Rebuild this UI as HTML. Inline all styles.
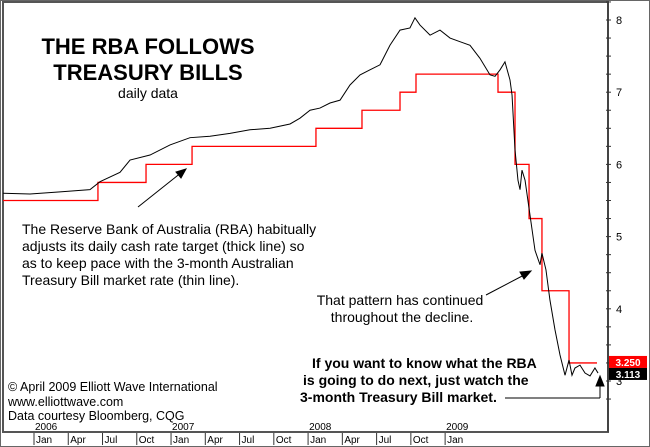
<!DOCTYPE html>
<html><head><meta charset="utf-8"><style>
body{margin:0;background:#fff}
svg{display:block;font-family:"Liberation Sans",Arial,sans-serif}
</style></head><body>
<svg id="chart" width="650" height="447" viewBox="0 0 650 447">
<rect x="0.5" y="0.5" width="649" height="446" fill="#fff" stroke="#666" stroke-width="1"/>
<rect x="3" y="2" width="605" height="430" fill="none" stroke="#555" stroke-width="2"/>
<g id="axes"></g>
<g id="marks"></g>
<g font-weight="bold" font-size="22" text-anchor="middle">
<text x="148" y="54">THE RBA FOLLOWS</text>
<text x="148" y="80">TREASURY BILLS</text>
</g>
<text x="148" y="98" font-size="14" text-anchor="middle">daily data</text>
<g font-size="14">
<text x="22" y="234">The Reserve Bank of Australia (RBA) habitually</text>
<text x="22" y="251">adjusts its daily cash rate target (thick line) so</text>
<text x="22" y="268">as to keep pace with the 3-month Australian</text>
<text x="22" y="285">Treasury Bill market rate (thin line).</text>
</g>
<g font-size="14" text-anchor="middle">
<text x="400" y="305">That pattern has continued</text>
<text x="402" y="322">throughout the decline.</text>
</g>
<g font-size="14" font-weight="bold">
<text x="312" y="368">If you want to know what the RBA</text>
<text x="303" y="385">is going to do next, just watch the</text>
<text x="300" y="402">3-month Treasury Bill market.</text>
</g>
<g font-size="12.5">
<text x="8" y="391">© April 2009 Elliott Wave International</text>
<text x="8" y="406">www.elliottwave.com</text>
<text x="8" y="420">Data courtesy Bloomberg, CQG</text>
</g>
<g stroke="#000" stroke-width="1" fill="#000">
<line x1="138" y1="207" x2="182" y2="172"/><polygon points="186,169 176,172 181,178"/>
<line x1="486" y1="295" x2="526" y2="274"/><polygon points="531,271 520,272 524,279"/>
<line x1="505" y1="398" x2="600" y2="398"/><line x1="600" y1="398" x2="600" y2="380"/><polygon points="600,376 596,386 604,386"/>
</g>
</svg>
<script>
// Treasury bill (months since Jan 2006, rate %)
const tbMonths=[-2.71,-0.35,2.28,4.9,5.78,7.53,8.41,10.16,11.91,13.66,15.41,17.16,18.91,20.67,22.42,23.29,24.17,25.04,25.92,26.8,27.67,28.55,29.42,30.3,31.17,32.05,32.92,33.36,33.8,34.68,35.55,36.43,37.3,38.18,39.05,39.93,40.37,40.81,41.24,41.68,41.86,42.12,42.38,42.56,42.73,43.0,43.43,43.87,44.31,44.48,44.83,45.18,45.62,46.06,46.5,46.85,47.11,47.37,47.81,48.25,48.69,49.12,49.39];
const tbValues=[5.60,5.59,5.62,5.65,5.76,5.89,6.06,6.13,6.27,6.37,6.39,6.43,6.48,6.50,6.56,6.64,6.75,6.78,6.85,6.89,7.10,7.24,7.31,7.38,7.65,7.86,7.89,8.03,7.93,7.79,7.86,7.75,7.70,7.65,7.47,7.24,7.22,7.31,7.42,7.17,6.96,6.20,5.78,5.65,5.92,5.78,5.30,4.81,4.61,4.77,4.54,4.12,3.71,3.36,3.08,3.29,3.08,3.18,3.22,3.11,3.07,3.18,3.11];
// RBA cash rate steps: start month of each level
const rbaStarts=[-2.71,5.6,9.81,13.84,24.69,28.72,32.05,33.45,40.63,42.12,43.35,44.48,46.85];
const rbaRates=[5.5,5.75,6.0,6.25,6.5,6.75,7.0,7.25,7.0,6.0,5.25,4.25,3.25];
const rbaEnd=49.3;
const yTicks=[3,4,5,6,7,8];
const monthLabels=["Jan","Apr","Jul","Oct","Jan","Apr","Jul","Oct","Jan","Apr","Jul","Oct","Jan"];
const yearLabels=["2006","2007","2008","2009"];
const lastRba="3.250", lastTb="3.113";

const NS="http://www.w3.org/2000/svg";
const X=m=>34+m*11.42;
const Y=v=>381-(v-3)*72.2;
function mk(tag,attrs,parent){const e=document.createElementNS(NS,tag);for(const k in attrs)e.setAttribute(k,attrs[k]);parent.appendChild(e);return e;}
const axes=document.getElementById('axes'),marks=document.getElementById('marks');

// right axis
const ax=mk('line',{x1:608,y1:2,x2:608,y2:432,stroke:'#333'},axes);


for(let v=2.75;v<=8.26;v+=0.25){const t=mk('line',{x1:606,x2:611,y1:Y(v),y2:Y(v),stroke:'#333'},axes);

}
yTicks.forEach(v=>{const t=mk('text',{x:616,y:Y(v)+4,'font-size':11},axes);t.textContent=v;

});

// bottom axis (month row below plot frame)
monthLabels.forEach((s,i)=>{const x=X(i*3);
const t=mk('line',{x1:x,x2:x,y1:433,y2:445,stroke:'#333'},axes);


const l=mk('text',{x:x+2,y:443,'font-size':10},axes);l.textContent=s;

});
yearLabels.forEach((s,i)=>{const l=mk('text',{x:X(i*12)+1,y:430,'font-size':10},axes);l.textContent=s;

});

// RBA step line
let d='';
rbaStarts.forEach((m,i)=>{const end=i<rbaStarts.length-1?rbaStarts[i+1]:rbaEnd;
d+=(i?'L':'M')+X(m)+','+Y(rbaRates[i])+'L'+X(end)+','+Y(rbaRates[i]);});
const rp=mk('path',{d:d,fill:'none',stroke:'#f00','stroke-width':1.3},marks);



// T-bill line
const tp=mk('polyline',{points:tbMonths.map((m,i)=>X(m)+','+Y(tbValues[i])).join(' '),fill:'none',stroke:'#000','stroke-width':1},marks);



// last value boxes
const rb=mk('rect',{x:609,y:Y(3.25)-7,width:38,height:12,fill:'#f00'},marks);


const rt=mk('text',{x:628,y:Y(3.25)+3,'font-size':10,'font-weight':'bold',fill:'#fff','text-anchor':'middle'},marks);rt.textContent=lastRba;


const tb=mk('rect',{x:609,y:Y(3.25)+5,width:38,height:12,fill:'#000'},marks);


const tt=mk('text',{x:628,y:Y(3.25)+15,'font-size':10,'font-weight':'bold',fill:'#fff','text-anchor':'middle'},marks);tt.textContent=lastTb;


</script>
</body></html>
